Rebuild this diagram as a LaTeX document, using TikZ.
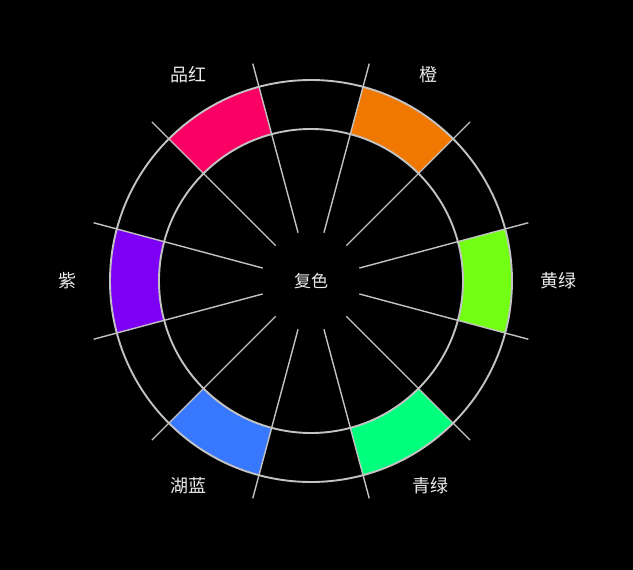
\documentclass[tikz,border=0pt]{standalone}
\usepackage{fontspec}
\usetikzlibrary{calc}
\newfontfamily\cjk{Noto Sans CJK SC}
\begin{document}
\begin{tikzpicture}[x=1pt,y=-1pt,
  ring/.style={draw=ringgray,line width=1.9pt},
  spoke/.style={draw=ringgray,line width=1.4pt},
  lab/.style={text=labgray,font=\cjk\fontsize{18}{18}\selectfont,inner sep=0pt}]
\definecolor{ringgray}{RGB}{195,195,195}
\definecolor{labgray}{RGB}{235,235,235}
\definecolor{cmag}{RGB}{250,0,100}
\definecolor{corange}{RGB}{240,120,0}
\definecolor{cyg}{RGB}{115,255,20}
\definecolor{cgreen}{RGB}{0,255,125}
\definecolor{cblue}{RGB}{55,120,255}
\definecolor{cpurple}{RGB}{125,0,245}
\fill[black] (0,0) rectangle (633,570);
\useasboundingbox (0,0) rectangle (633,570);
\coordinate (c) at (311,281);
\foreach \a/\col in {-75/corange, -15/cyg, 45/cgreen, 105/cblue, 165/cpurple, -135/cmag}{
  \fill[\col] ($(c)+(\a:152)$) arc[start angle=\a, end angle=\a+30, radius=152]
     -- ($(c)+(\a+30:201)$) arc[start angle=\a+30, end angle=\a, radius=201] -- cycle;
}
\draw[ring] (c) circle[radius=152];
\draw[ring] (c) circle[radius=201];
\foreach \a in {15,45,...,345}{
  \draw[spoke] ($(c)+(\a:50)$) -- ($(c)+(\a:225)$);
}
\node[lab,font=\cjk\fontsize{17}{17}\selectfont] (center) at (c) {复色};
\node[lab] (orange) at (428,75) {橙};
\node[lab] (yg) at (558,281) {黄绿};
\node[lab] (green) at (430,486) {青绿};
\node[lab] (blue) at (188,486) {湖蓝};
\node[lab] (purple) at (68,281) {紫};
\node[lab] (mag) at (188,75) {品红};
\end{tikzpicture}
\end{document}
